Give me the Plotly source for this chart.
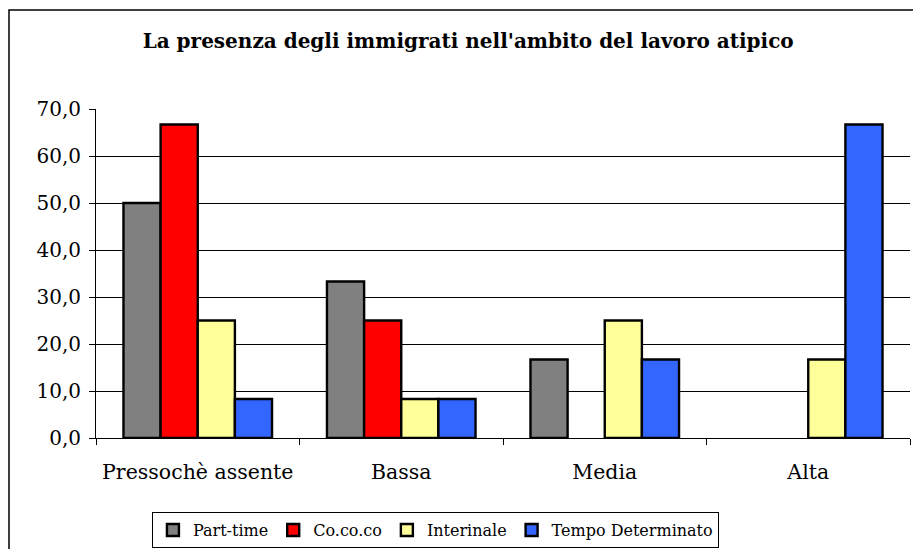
import plotly.graph_objects as go

categories = ["Pressochè assente", "Bassa", "Media", "Alta"]
part_time = [50.0, 33.3, 16.7, 0.0]
cococo = [66.7, 25.0, 0.0, 0.0]
interinale = [25.0, 8.3, 25.0, 16.7]
tempo_det = [8.3, 8.3, 16.7, 66.7]
y_ticks = [0, 10, 20, 30, 40, 50, 60, 70]

series = [
    ("Part-time", part_time, "#808080"),
    ("Co.co.co", cococo, "#FF0000"),
    ("Interinale", interinale, "#FFFF99"),
    ("Tempo Determinato", tempo_det, "#3366FF"),
]

SERIF = "DejaVu Serif, Liberation Serif, serif"

fig = go.Figure()
for name, vals, color in series:
    fig.add_trace(go.Bar(
        name=name,
        x=categories,
        y=[v if v > 0 else None for v in vals],
        marker=dict(color=color, line=dict(color="black", width=2.4)),
    ))

# page body has an 8px margin, so the figure is 8px smaller than the window
fig.update_layout(
    width=913, height=541,
    barmode="group", bargap=0.27, bargroupgap=0,
    plot_bgcolor="white", paper_bgcolor="white",
    separators=",.",
    margin=dict(l=88, r=11, t=101, b=111, autoexpand=False),
    font=dict(family=SERIF, size=16, color="black"),
    title=dict(
        text="<b>La presenza degli immigrati nell'ambito del lavoro atipico</b>",
        x=0.504, xref="container", xanchor="center",
        y=1 - 33 / 541, yref="container", yanchor="middle",
        font=dict(family=SERIF, size=20, color="black"),
    ),
    legend=dict(
        orientation="h", x=0.417, xanchor="center", y=-0.225, yanchor="top",
        bordercolor="black", borderwidth=1, font=dict(size=16),
        itemwidth=30, tracegroupgap=0,
    ),
    showlegend=True,
)

fig.update_yaxes(
    range=[0, 70], tickvals=y_ticks, tickformat=".1f",
    showgrid=False,
    minor=dict(tickvals=y_ticks[1:-1], showgrid=True, gridcolor="black", gridwidth=1, ticks=""),
    showline=True, linecolor="black", linewidth=1,
    ticks="outside", ticklen=6, tickcolor="black",
    zeroline=False, tickfont=dict(size=20), ticklabelstandoff=4,
)
fig.update_xaxes(
    showline=True, linecolor="black", linewidth=1,
    ticks="outside", tickson="boundaries", ticklen=6, tickcolor="black",
    tickfont=dict(size=20.5), tickangle=0, ticklabelstandoff=15,
)

# outer chart frame
fig.add_shape(
    type="rect", xref="paper", yref="paper",
    x0=-87 / 814, x1=1.03, y0=-0.4, y1=1 + 99 / 329,
    line=dict(color="black", width=1.5), fillcolor="rgba(0,0,0,0)", layer="below",
)

fig.write_html("out.html")
